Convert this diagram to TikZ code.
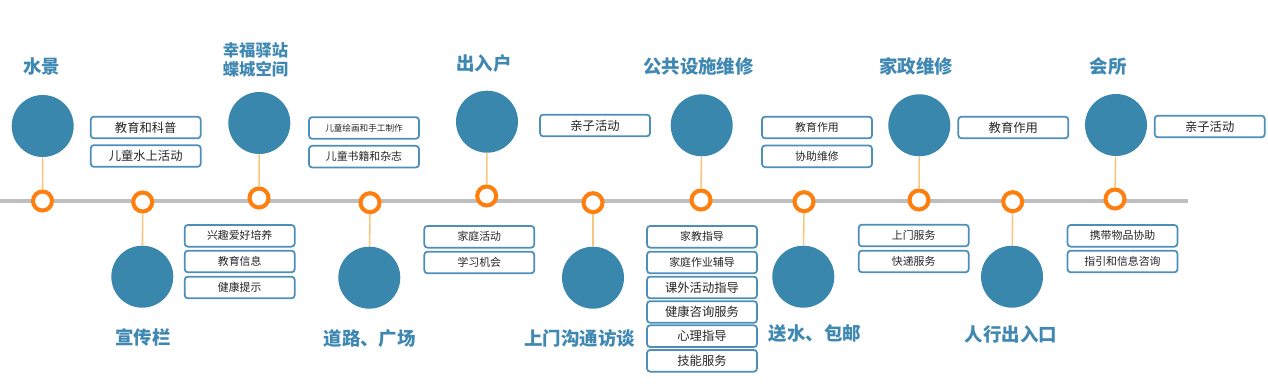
\documentclass[tikz,border=0pt]{standalone}
\usepackage{fontspec}
\newfontfamily\cjk{Noto Sans CJK SC}
\definecolor{cblue}{HTML}{3A87AD}
\definecolor{tblue}{HTML}{3F88B2}
\definecolor{bblue}{HTML}{4D8FB9}
\definecolor{corange}{HTML}{FF7F0E}
\definecolor{clink}{HTML}{F8C67C}
\definecolor{cgray}{HTML}{BFBFBF}
\tikzset{
  bigc/.style={circle, fill=cblue, minimum size=1.24cm, inner sep=0pt},
  ring/.style={circle, draw=corange, fill=white, line width=2.3pt, minimum size=0.38cm, inner sep=0pt},
  link/.style={draw=clink, line width=0.9pt},
  title/.style={text=tblue, font=\cjk\bfseries\fontsize{10.5}{12.5}\selectfont, align=center, inner sep=0pt},
  sbox/.style={draw=bblue, fill=white, line width=1pt, rounded corners=1.8pt, minimum width=2.2cm, minimum height=0.434cm, inner sep=0pt, text=black!85, font=\cjk\fontsize{6.2}{7}\selectfont},
  sboxl/.style={sbox, font=\cjk\fontsize{7}{8}\selectfont},
  sboxs/.style={sbox, font=\cjk\fontsize{4.9}{6}\selectfont}
}
\begin{document}
\begin{tikzpicture}[x=0.02cm,y=-0.02cm]
\useasboundingbox (0,0) rectangle (1268,384);
% timeline
\coordinate (l0) at (0,201);
\coordinate (l1) at (1188,201);
\draw[cgray, line width=2.3pt] (l0) -- (l1);
% big circles
\node[bigc] (c1) at (42.7,126) {};
\node[bigc] (c2) at (142.3,276.7) {};
\node[bigc] (c3) at (259.3,123) {};
\node[bigc] (c4) at (369.3,277.7) {};
\node[bigc] (c5) at (487,121.7) {};
\node[bigc] (c6) at (593,277.7) {};
\node[bigc] (c7) at (701.7,125.3) {};
\node[bigc] (c8) at (803.3,276.7) {};
\node[bigc] (c9) at (919.3,125.3) {};
\node[bigc] (c10) at (1012,276.7) {};
\node[bigc] (c11) at (1116,125) {};
% rings
\node[ring] (r1) at (42.5,201) {};
\node[ring] (r2) at (142.7,202) {};
\node[ring] (r3) at (259,198) {};
\node[ring] (r4) at (370,202.7) {};
\node[ring] (r5) at (486.7,196) {};
\node[ring] (r6) at (593,202.7) {};
\node[ring] (r7) at (701,200) {};
\node[ring] (r8) at (804,201.7) {};
\node[ring] (r9) at (919,200) {};
\node[ring] (r10) at (1012.7,201.7) {};
\node[ring] (r11) at (1115,199) {};
% links
\draw[link] (c1) -- (r1);
\draw[link] (r2) -- (c2);
\draw[link] (c3) -- (r3);
\draw[link] (r4) -- (c4);
\draw[link] (c5) -- (r5);
\draw[link] (r6) -- (c6);
\draw[link] (c7) -- (r7);
\draw[link] (r8) -- (c8);
\draw[link] (c9) -- (r9);
\draw[link] (r10) -- (c10);
\draw[link] (c11) -- (r11);
% titles
\node[title] (t1) at (41.7,66.7) {水景};
\node[title, font=\cjk\bfseries\fontsize{9.3}{10.6}\selectfont] (t3) at (255.5,60) {幸福驿站\\蝶城空间};
\node[title] (t5) at (484,63.3) {出入户};
\node[title] (t7) at (698.5,66.7) {公共设施维修};
\node[title] (t9) at (916,66.7) {家政维修};
\node[title] (t11) at (1108,66.7) {会所};
\node[title] (t2) at (142.8,337.3) {宣传栏};
\node[title] (t4) at (369.7,338.3) {道路、广场};
\node[title] (t6) at (579.7,338.3) {上门沟通访谈};
\node[title] (t8) at (815,333.5) {送水、包邮};
\node[title] (t10) at (1011,334) {人行出入口};
% boxes top
\node[sboxl] (b1a) at (145.7,127.5) {教育和科普};
\node[sboxl] (b1b) at (145.7,156) {儿童水上活动};
\node[sboxs] (b3a) at (364,128) {儿童绘画和手工制作};
\node[sbox]  (b3b) at (364,156.7) {儿童书籍和杂志};
\node[sboxl] (b5a) at (595,125.5) {亲子活动};
\node[sbox]  (b7a) at (817,127.5) {教育作用};
\node[sbox]  (b7b) at (817,156.3) {协助维修};
\node[sboxl] (b9a) at (1013.3,127.5) {教育作用};
\node[sboxl] (b11a) at (1209.7,126.5) {亲子活动};
% boxes bottom
\node[sbox] (b2a) at (239.7,235.8) {兴趣爱好培养};
\node[sbox] (b2b) at (239.7,261.5) {教育信息};
\node[sbox] (b2c) at (239.7,287.5) {健康提示};
\node[sbox] (b4a) at (479.3,236.8) {家庭活动};
\node[sbox] (b4b) at (479.3,262.5) {学习机会};
\node[sbox]  (b6a) at (702,236.8) {家教指导};
\node[sbox]  (b6b) at (702,262.5) {家庭作业辅导};
\node[sboxl] (b6c) at (702,287.5) {课外活动指导};
\node[sboxl] (b6d) at (702,312) {健康咨询服务};
\node[sboxl] (b6e) at (702,336.2) {心理指导};
\node[sboxl] (b6f) at (702,360.8) {技能服务};
\node[sbox] (b8a) at (913.7,235.5) {上门服务};
\node[sbox] (b8b) at (913.7,261.5) {快递服务};
\node[sbox] (b10a) at (1122.5,235.8) {携带物品协助};
\node[sbox] (b10b) at (1122.5,261.5) {指引和信息咨询};
\end{tikzpicture}
\end{document}
